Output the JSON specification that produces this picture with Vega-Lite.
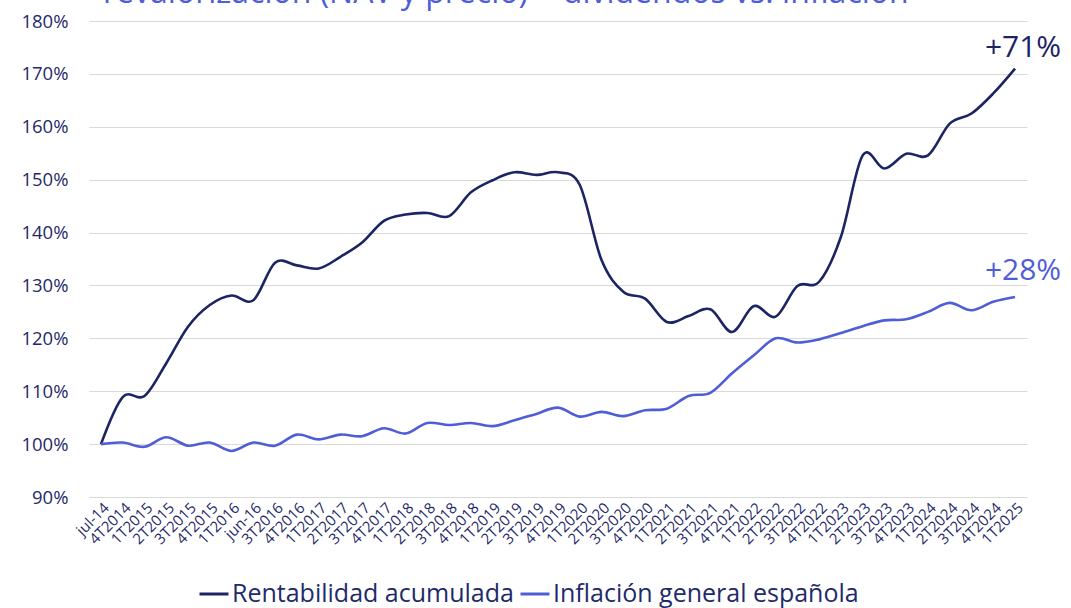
{
  "$schema": "https://vega.github.io/schema/vega-lite/v6.json",
  "autosize": {"type": "none"},
  "width": 938,
  "height": 476,
  "padding": {"left": 89, "top": 21, "right": 44, "bottom": 111},
  "background": "white",
  "title": {
    "text": "revalorización (NAV y precio) + dividendos vs. inflación",
    "anchor": "start",
    "frame": "group",
    "orient": "top",
    "baseline": "alphabetic",
    "offset": 2,
    "dx": 14,
    "dy": 25,
    "font": "Open Sans",
    "fontSize": 32,
    "fontWeight": "normal",
    "color": "#4f5ed6"
  },
  "config": {
    "font": "Open Sans",
    "view": {"stroke": null}
  },
  "datasets": {
    "series": [
      {"t": "jul-14", "s": "Rentabilidad acumulada", "v": 100.0},
      {"t": "4T2014", "s": "Rentabilidad acumulada", "v": 108.9},
      {"t": "1T2015", "s": "Rentabilidad acumulada", "v": 109.1},
      {"t": "2T2015", "s": "Rentabilidad acumulada", "v": 115.3},
      {"t": "3T2015", "s": "Rentabilidad acumulada", "v": 122.2},
      {"t": "4T2015", "s": "Rentabilidad acumulada", "v": 126.3},
      {"t": "1T2016", "s": "Rentabilidad acumulada", "v": 128.1},
      {"t": "jun-16", "s": "Rentabilidad acumulada", "v": 127.2},
      {"t": "3T2016", "s": "Rentabilidad acumulada", "v": 134.3},
      {"t": "4T2016", "s": "Rentabilidad acumulada", "v": 133.8},
      {"t": "1T2017", "s": "Rentabilidad acumulada", "v": 133.2},
      {"t": "2T2017", "s": "Rentabilidad acumulada", "v": 135.4},
      {"t": "3T2017", "s": "Rentabilidad acumulada", "v": 138.1},
      {"t": "4T2017", "s": "Rentabilidad acumulada", "v": 142.2},
      {"t": "1T2018", "s": "Rentabilidad acumulada", "v": 143.4},
      {"t": "2T2018", "s": "Rentabilidad acumulada", "v": 143.7},
      {"t": "3T2018", "s": "Rentabilidad acumulada", "v": 143.1},
      {"t": "4T2018", "s": "Rentabilidad acumulada", "v": 147.6},
      {"t": "1T2019", "s": "Rentabilidad acumulada", "v": 149.9},
      {"t": "2T2019", "s": "Rentabilidad acumulada", "v": 151.4},
      {"t": "3T2019", "s": "Rentabilidad acumulada", "v": 150.9},
      {"t": "4T2019", "s": "Rentabilidad acumulada", "v": 151.4},
      {"t": "1T2020", "s": "Rentabilidad acumulada", "v": 149.0},
      {"t": "2T2020", "s": "Rentabilidad acumulada", "v": 134.8},
      {"t": "3T2020", "s": "Rentabilidad acumulada", "v": 128.8},
      {"t": "4T2020", "s": "Rentabilidad acumulada", "v": 127.5},
      {"t": "1T2021", "s": "Rentabilidad acumulada", "v": 123.1},
      {"t": "2T2021", "s": "Rentabilidad acumulada", "v": 124.2},
      {"t": "3T2021", "s": "Rentabilidad acumulada", "v": 125.5},
      {"t": "4T2021", "s": "Rentabilidad acumulada", "v": 121.2},
      {"t": "1T2022", "s": "Rentabilidad acumulada", "v": 126.1},
      {"t": "2T2022", "s": "Rentabilidad acumulada", "v": 124.1},
      {"t": "3T2022", "s": "Rentabilidad acumulada", "v": 129.9},
      {"t": "4T2022", "s": "Rentabilidad acumulada", "v": 130.7},
      {"t": "1T2023", "s": "Rentabilidad acumulada", "v": 139.2},
      {"t": "2T2023", "s": "Rentabilidad acumulada", "v": 154.6},
      {"t": "3T2023", "s": "Rentabilidad acumulada", "v": 152.1},
      {"t": "4T2023", "s": "Rentabilidad acumulada", "v": 154.9},
      {"t": "1T2024", "s": "Rentabilidad acumulada", "v": 154.6},
      {"t": "2T2024", "s": "Rentabilidad acumulada", "v": 160.6},
      {"t": "3T2024", "s": "Rentabilidad acumulada", "v": 162.5},
      {"t": "4T2024", "s": "Rentabilidad acumulada", "v": 166.3},
      {"t": "1T2025", "s": "Rentabilidad acumulada", "v": 171.0},
      {"t": "jul-14", "s": "Inflación general española", "v": 100.0},
      {"t": "4T2014", "s": "Inflación general española", "v": 100.3},
      {"t": "1T2015", "s": "Inflación general española", "v": 99.5},
      {"t": "2T2015", "s": "Inflación general española", "v": 101.3},
      {"t": "3T2015", "s": "Inflación general española", "v": 99.7},
      {"t": "4T2015", "s": "Inflación general española", "v": 100.3},
      {"t": "1T2016", "s": "Inflación general española", "v": 98.7},
      {"t": "jun-16", "s": "Inflación general española", "v": 100.3},
      {"t": "3T2016", "s": "Inflación general española", "v": 99.7},
      {"t": "4T2016", "s": "Inflación general española", "v": 101.8},
      {"t": "1T2017", "s": "Inflación general española", "v": 100.9},
      {"t": "2T2017", "s": "Inflación general española", "v": 101.8},
      {"t": "3T2017", "s": "Inflación general española", "v": 101.5},
      {"t": "4T2017", "s": "Inflación general española", "v": 103.0},
      {"t": "1T2018", "s": "Inflación general española", "v": 102.0},
      {"t": "2T2018", "s": "Inflación general española", "v": 104.0},
      {"t": "3T2018", "s": "Inflación general española", "v": 103.6},
      {"t": "4T2018", "s": "Inflación general española", "v": 104.0},
      {"t": "1T2019", "s": "Inflación general española", "v": 103.4},
      {"t": "2T2019", "s": "Inflación general española", "v": 104.5},
      {"t": "3T2019", "s": "Inflación general española", "v": 105.7},
      {"t": "4T2019", "s": "Inflación general española", "v": 106.9},
      {"t": "1T2020", "s": "Inflación general española", "v": 105.2},
      {"t": "2T2020", "s": "Inflación general española", "v": 106.1},
      {"t": "3T2020", "s": "Inflación general española", "v": 105.3},
      {"t": "4T2020", "s": "Inflación general española", "v": 106.4},
      {"t": "1T2021", "s": "Inflación general española", "v": 106.7},
      {"t": "2T2021", "s": "Inflación general española", "v": 109.1},
      {"t": "3T2021", "s": "Inflación general española", "v": 109.7},
      {"t": "4T2021", "s": "Inflación general española", "v": 113.4},
      {"t": "1T2022", "s": "Inflación general española", "v": 116.8},
      {"t": "2T2022", "s": "Inflación general española", "v": 120.0},
      {"t": "3T2022", "s": "Inflación general española", "v": 119.2},
      {"t": "4T2022", "s": "Inflación general española", "v": 119.8},
      {"t": "1T2023", "s": "Inflación general española", "v": 121.0},
      {"t": "2T2023", "s": "Inflación general española", "v": 122.3},
      {"t": "3T2023", "s": "Inflación general española", "v": 123.4},
      {"t": "4T2023", "s": "Inflación general española", "v": 123.6},
      {"t": "1T2024", "s": "Inflación general española", "v": 125.0},
      {"t": "2T2024", "s": "Inflación general española", "v": 126.7},
      {"t": "3T2024", "s": "Inflación general española", "v": 125.3},
      {"t": "4T2024", "s": "Inflación general española", "v": 126.9},
      {"t": "1T2025", "s": "Inflación general española", "v": 127.8}
    ],
    "labels": [
      {"t": "1T2025", "s": "Rentabilidad acumulada", "v": 171.0, "label": "+71%"},
      {"t": "1T2025", "s": "Inflación general española", "v": 127.8, "label": "+28%"}
    ]
  },
  "encoding": {
    "x": {
      "field": "t",
      "type": "ordinal",
      "sort": null,
      "scale": {"type": "point", "padding": 0.55},
      "axis": {
        "title": null,
        "labelAngle": -45,
        "labelFontSize": 15,
        "labelColor": "#1f2a6b",
        "labelFont": "Open Sans",
        "labelPadding": 3,
        "labelOverlap": false,
        "ticks": false,
        "domain": false,
        "grid": false
      }
    },
    "y": {
      "field": "v",
      "type": "quantitative",
      "scale": {"domain": [90, 180], "nice": false, "zero": false},
      "axis": {
        "title": null,
        "values": [90, 100, 110, 120, 130, 140, 150, 160, 170, 180],
        "labelExpr": "datum.value + '%'",
        "labelFontSize": 18.5,
        "labelColor": "#1f2a6b",
        "labelFont": "Open Sans",
        "labelPadding": 21,
        "ticks": false,
        "domain": false,
        "grid": true,
        "gridColor": "#d9d9d9",
        "gridWidth": 1
      }
    },
    "color": {
      "field": "s",
      "type": "nominal",
      "scale": {
        "domain": ["Rentabilidad acumulada", "Inflación general española"],
        "range": ["#1c2464", "#4f5ed6"]
      }
    }
  },
  "layer": [
    {
      "data": {"name": "series"},
      "mark": {"type": "line", "interpolate": "cardinal", "tension": 0, "strokeWidth": 2.6},
      "encoding": {
        "color": {
          "field": "s",
          "type": "nominal",
          "legend": {
            "title": null,
            "orient": "none",
            "legendX": 109,
            "legendY": 557,
            "direction": "horizontal",
            "symbolType": "stroke",
            "symbolSize": 841,
            "symbolStrokeWidth": 3,
            "labelFontSize": 25,
            "labelFont": "Open Sans",
            "labelColor": "#1f2a6b",
            "labelOffset": 2,
            "columnPadding": 0,
            "labelLimit": 400
          }
        }
      }
    },
    {
      "data": {"name": "labels"},
      "transform": [{"filter": "datum.label == '+71%'"}],
      "mark": {"type": "text", "fontSize": 30, "font": "Open Sans", "baseline": "alphabetic", "align": "center", "dx": 8, "dy": -12},
      "encoding": {
        "text": {"field": "label"},
        "color": {"field": "s", "type": "nominal", "legend": null}
      }
    },
    {
      "data": {"name": "labels"},
      "transform": [{"filter": "datum.label == '+28%'"}],
      "mark": {"type": "text", "fontSize": 30, "font": "Open Sans", "baseline": "alphabetic", "align": "center", "dx": 8, "dy": -17},
      "encoding": {
        "text": {"field": "label"},
        "color": {"field": "s", "type": "nominal", "legend": null}
      }
    }
  ]
}
